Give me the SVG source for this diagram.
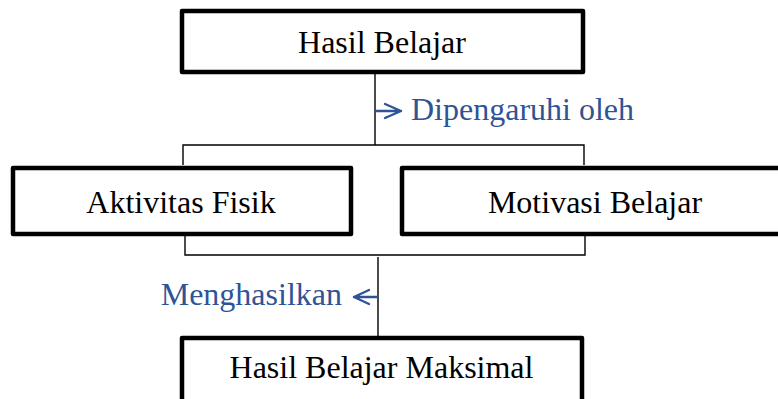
<svg xmlns="http://www.w3.org/2000/svg" width="778" height="399" viewBox="0 0 778 399">
  <style>
    .box { fill: #ffffff; stroke: #000000; stroke-width: 4.5; stroke-linejoin: round; }
    .label { font-family: "Liberation Serif", "Times New Roman", serif; font-size: 32px; fill: #000000; }
    .note { font-family: "Liberation Serif", "Times New Roman", serif; font-size: 32px; fill: #2F5496; }
    .conn { fill: none; stroke: #000000; stroke-width: 1.4; }
    .arrow { fill: none; stroke: #2F5496; stroke-width: 2.4; stroke-linecap: round; stroke-linejoin: round; }
  </style>
  <rect width="778" height="399" fill="#ffffff"/>
  <g id="connectors">
    <path class="conn" d="M375 74 V145 M183 165 V145 H584 V165"/>
    <path class="conn" d="M185 235 V255 H585 V235 M378 257 V336"/>
    <path class="arrow" d="M376 111 H401 M385 104 L401 111 L385 118"/>
    <path class="arrow" d="M377 297 H354 M369 290 L354 297 L369 304"/>
    <text class="note" x="411" y="120">Dipengaruhi oleh</text>
    <text class="note" x="342" y="305" text-anchor="end">Menghasilkan</text>
  </g>
  <g id="node-hasil-belajar">
    <rect class="box" x="182" y="11" width="401" height="61"/>
    <text class="label" x="382" y="53" text-anchor="middle">Hasil Belajar</text>
  </g>
  <g id="node-aktivitas-fisik">
    <rect class="box" x="13" y="168" width="338" height="66"/>
    <text class="label" x="181" y="213" text-anchor="middle">Aktivitas Fisik</text>
  </g>
  <g id="node-motivasi-belajar">
    <rect class="box" x="402" y="168" width="390" height="66"/>
    <text class="label" x="595" y="213" text-anchor="middle">Motivasi Belajar</text>
  </g>
  <g id="node-hasil-belajar-maksimal">
    <rect class="box" x="182" y="338" width="400" height="80"/>
    <text class="label" x="381.5" y="378" text-anchor="middle">Hasil Belajar Maksimal</text>
  </g>
</svg>
